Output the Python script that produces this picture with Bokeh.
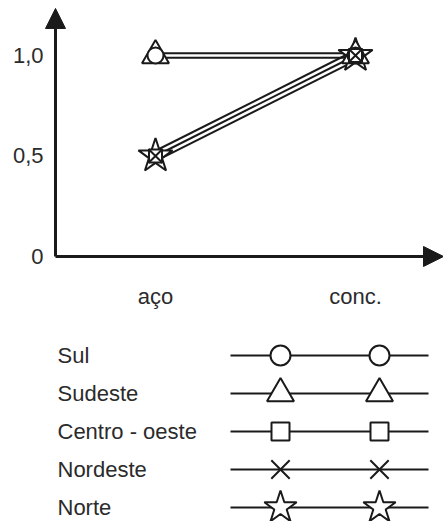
from bokeh.plotting import figure
from bokeh.layouts import column
from bokeh.models import ColumnDataSource, Range1d, Arrow, NormalHead
from bokeh.transform import dodge
from bokeh.core.properties import value
from bokeh.embed import file_html
from bokeh.resources import INLINE

# ---------------- data ----------------
categories = ["aço", "conc."]
series_names = ["Sul", "Sudeste", "Centro - oeste", "Nordeste", "Norte"]
sul = [1.0, 1.0]
sudeste = [1.0, 1.0]
centro_oeste = [0.5, 1.0]
nordeste = [0.5, 1.0]
norte = [0.5, 1.0]
y_ticks = [0, 0.5, 1.0]
y_tick_labels = ["0", "0,5", "1,0"]

series_values = [sul, sudeste, centro_oeste, nordeste, norte]

# ---------------- styles ----------------
markers = ["circle", "triangle", "square", "x", "star"]
chart_sizes = [16, 27, 13, 20, 36]
legend_sizes = [20, 27, 18, 26, 34]
line_offsets = [0.011, -0.011, 0.026, 0.0, -0.026]   # small separation of overlapping lines
draw_order = [4, 1, 0, 2, 3]
INK = "#1a1a1a"
TEXT = "#2b2b2b"
FONT = "Liberation Sans"
FS = "22px"
LW = 2

xs = list(range(len(categories)))

# ranges (frame covers the whole canvas)
X_LO, X_HI = -0.775, 1.44
Y_LO, Y_HI = -0.2687, 1.2736
AXIS_X = -0.5      # where the vertical axis sits
ARROW_TOP = 1.234

p = figure(width=443, height=310, output_backend="svg", toolbar_location=None,
           x_range=Range1d(X_LO, X_HI), y_range=Range1d(Y_LO, Y_HI), min_border=0)
p.outline_line_color = None
p.grid.grid_line_color = None
p.axis.visible = False

# axes with arrows
p.add_layout(Arrow(x_start=AXIS_X, y_start=0, x_end=X_HI, y_end=0,
                   line_width=3, line_color=INK,
                   end=NormalHead(size=20, fill_color=INK, line_color=INK, line_width=1)))
p.add_layout(Arrow(x_start=AXIS_X, y_start=0, x_end=AXIS_X, y_end=ARROW_TOP,
                   line_width=3, line_color=INK,
                   end=NormalHead(size=20, fill_color=INK, line_color=INK, line_width=1)))

# tick labels
ytick_src = ColumnDataSource(dict(y=y_ticks, t=y_tick_labels, x=[AXIS_X] * len(y_ticks)))
p.text(x="x", y="y", text="t", source=ytick_src, x_offset=-12,
       text_font=value(FONT), text_font_size=FS, text_color=TEXT,
       text_align="right", text_baseline="middle")
xcat_src = ColumnDataSource(dict(x=xs, y=[0] * len(xs), t=categories))
p.text(x="x", y="y", text="t", source=xcat_src, y_offset=40,
       text_font=value(FONT), text_font_size=FS, text_color=TEXT,
       text_align="center", text_baseline="alphabetic")

sources = [ColumnDataSource(dict(x=xs, y=vals)) for vals in series_values]
for i, src in enumerate(sources):
    p.line(x="x", y=dodge("y", line_offsets[i]), source=src, line_width=LW, line_color=INK)
for i in draw_order:
    p.scatter(x="x", y="y", source=sources[i], marker=markers[i], size=chart_sizes[i],
              fill_color="white", line_color=INK, line_width=LW)

# ---------------- key ----------------
rows = list(range(len(series_names)))
lg = figure(width=443, height=211, output_backend="svg", toolbar_location=None,
            x_range=Range1d(0, 443), y_range=Range1d(4.368, -1.184),
            min_border=0)
lg.axis.visible = False
lg.grid.grid_line_color = None
lg.outline_line_color = None

key_src = ColumnDataSource(dict(row=rows, name=series_names, marker=markers, size=legend_sizes))
lg.segment(x0=230, x1=428, y0="row", y1="row", source=key_src, line_width=LW, line_color=INK)
for kx in (280, 379):
    lg.scatter(x=kx, y="row", source=key_src, marker="marker", size="size",
               fill_color="white", line_color=INK, line_width=LW)
lg.text(x=57, y="row", text="name", source=key_src, text_font=value(FONT),
        text_font_size=FS, text_color=TEXT, text_baseline="middle", text_align="left")

layout = column(p, lg, spacing=0)
open("out.html", "w").write(file_html(layout, INLINE))
